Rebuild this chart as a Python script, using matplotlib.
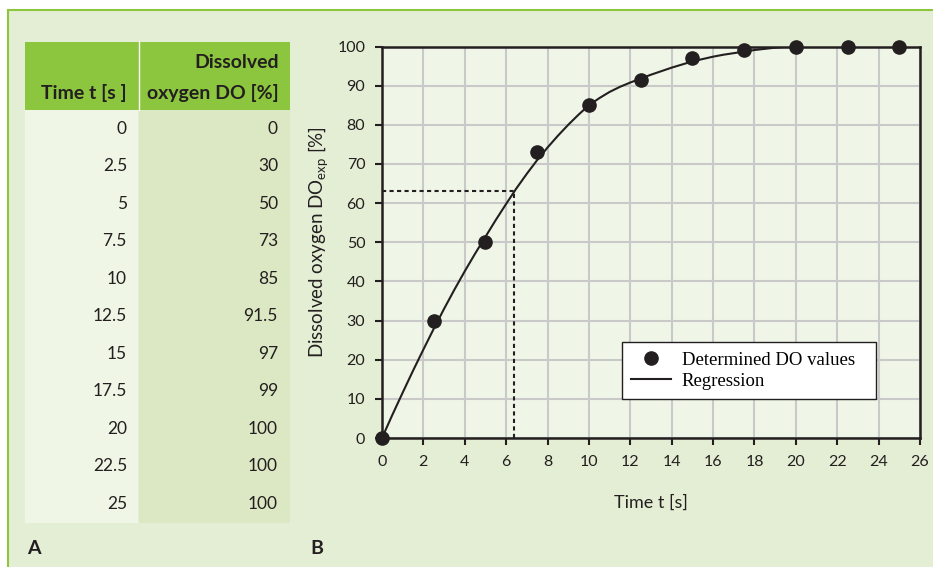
"""
plot.py - dissolved oxygen step response: table (A) and regression plot (B).
"""
import numpy as np
import matplotlib
matplotlib.use("Agg")
import matplotlib.pyplot as plt
from matplotlib.patches import Rectangle

# ── data ────────────────────────────────────────────────────────────────────
time_s = [0, 2.5, 5, 7.5, 10, 12.5, 15, 17.5, 20, 22.5, 25]
do_pct = [0, 30, 50, 73, 85, 91.5, 97, 99, 100, 100, 100]
time_labels = ["0", "2.5", "5", "7.5", "10", "12.5", "15", "17.5", "20", "22.5", "25"]
do_labels = ["0", "30", "50", "73", "85", "91.5", "97", "99", "100", "100", "100"]

# regression curve (every 0.5 s up to 20 s)
reg_t = [0, 0.5, 1, 1.5, 2, 2.5, 3, 3.5, 4, 4.5, 5, 5.5, 6, 6.5, 7, 7.5, 8, 8.5, 9, 9.5,
         10, 10.5, 11, 11.5, 12, 12.5, 13, 13.5, 14, 14.5, 15, 15.5, 16, 16.5, 17, 17.5,
         18, 18.5, 19, 19.5, 20, 22.5, 25]
reg_do = [0, 5.9, 11.6, 17.2, 22.6, 27.9, 33.0, 37.9, 42.6, 47.1, 51.4, 55.7, 59.8, 63.8,
          67.5, 71.0, 74.2, 77.2, 80.0, 82.6, 85.0, 86.8, 88.4, 89.7, 90.8, 91.8, 92.8,
          93.7, 94.6, 95.4, 96.2, 96.8, 97.4, 97.9, 98.3, 98.7, 99.1, 99.4, 99.7, 99.9,
          100, 100, 100]

T63 = 6.38    # time to 63.2 %
DO63 = 63.2

# ── style ───────────────────────────────────────────────────────────────────
SANS = "Lato"
INK = "#231f20"
GREEN = "#8cc63e"
PANEL = "#e4eed4"
COL1 = "#eff6e6"
COL2 = "#dbe8c3"
PLOT_BG = "#f0f6e7"
GRID = "#c9c9c9"

plt.rcParams["font.family"] = [SANS, "DejaVu Sans"]
plt.rcParams["mathtext.fontset"] = "custom"
plt.rcParams["mathtext.rm"] = SANS
plt.rcParams["mathtext.it"] = SANS

W, H = 933, 567
fig = plt.figure(figsize=(W / 100, H / 100), dpi=100)
fig.patch.set_facecolor("white")


def fx(px):
    return px / W


def fy(py):
    return 1 - py / H


def box(x, y, w, h, color):
    fig.patches.append(Rectangle((fx(x), fy(y + h)), w / W, h / H, transform=fig.transFigure,
                                 facecolor=color, edgecolor="none", zorder=-2))


# outer panel with green top/left border
box(8, 10, W - 8, H - 10, PANEL)
fig.add_artist(plt.Line2D([fx(8), 1], [fy(10), fy(10)], color=GREEN, lw=1.5,
                          transform=fig.transFigure, zorder=-1))
fig.add_artist(plt.Line2D([fx(8), fx(8)], [0, fy(10)], color=GREEN, lw=1.5,
                          transform=fig.transFigure, zorder=-1))

# ── table (A) ───────────────────────────────────────────────────────────────
x0, xm, x1 = 25, 138, 290
head_top, head_bot = 42, 110
row_h = 37.5
body_bot = head_bot + row_h * len(time_s)

box(x0, head_top, x1 - x0, head_bot - head_top, GREEN)
box(x0, head_bot, xm - x0, body_bot - head_bot, COL1)
box(xm + 1, head_bot, x1 - xm - 1, body_bot - head_bot, COL2)
fig.add_artist(plt.Line2D([fx(xm + 0.5)] * 2, [fy(head_bot), fy(head_top)], color="white",
                          lw=1, transform=fig.transFigure, zorder=-1))

fig.text(fx(127), fy(93), "Time t [s ]", ha="right", va="center", fontsize=14,
         fontweight="bold", color=INK)
fig.text(fx(279), fy(62), "Dissolved", ha="right", va="center", fontsize=14,
         fontweight="bold", color=INK)
fig.text(fx(279), fy(93), "oxygen DO [%]", ha="right", va="center", fontsize=14,
         fontweight="bold", color=INK)

for i, (tl, dl) in enumerate(zip(time_labels, do_labels)):
    yc = head_bot + row_h * (i + 0.5)
    fig.text(fx(127), fy(yc), tl, ha="right", va="center", fontsize=12.5, color=INK)
    fig.text(fx(278), fy(yc), dl, ha="right", va="center", fontsize=12.5, color=INK)

fig.text(fx(27), fy(548), "A", ha="left", va="center", fontsize=14, fontweight="bold", color=INK)
fig.text(fx(310), fy(548), "B", ha="left", va="center", fontsize=14, fontweight="bold", color=INK)

# ── plot (B) ────────────────────────────────────────────────────────────────
ax = fig.add_axes([fx(382), fy(438), fx(920 - 382), fy(46.5) - fy(438)])
ax.set_zorder(5)
ax.set_facecolor(PLOT_BG)
ax.set_xlim(0, 26)
ax.set_ylim(0, 100)
ax.set_xticks(np.arange(0, 27, 2))
ax.set_yticks(np.arange(0, 101, 10))
ax.grid(True, color=GRID, lw=1.5)
ax.set_axisbelow(True)
for s in ax.spines.values():
    s.set_linewidth(1.8)
    s.set_color(INK)
ax.tick_params(direction="out", length=5, width=1.5, color=INK, labelsize=11.5,
               labelcolor=INK, pad=7)

ax.plot([0, T63], [DO63, DO63], color=INK, lw=1.5, ls=(0, (2, 1.6)), zorder=2)
ax.plot([T63, T63], [0, DO63], color=INK, lw=1.5, ls=(0, (2, 1.6)), zorder=2)

ax.plot(reg_t, reg_do, color=INK, lw=1.5, label="Regression", zorder=3)
ax.plot(time_s, do_pct, "o", color=INK, ms=9.5, label="Determined DO values",
        clip_on=False, zorder=4)

handles, labels = ax.get_legend_handles_labels()
leg = ax.legend(handles[::-1], labels[::-1], loc="lower left",
                bbox_to_anchor=(0.446, 0.0996, 0.472, 0.184), mode="expand",
                borderaxespad=0, frameon=True, fancybox=False, handlelength=2.1,
                handletextpad=0.6, prop={"family": "Liberation Serif", "size": 13.5},
                labelspacing=0.2, borderpad=0.5)
leg.get_frame().set_edgecolor(INK)
leg.get_frame().set_linewidth(1)
leg.get_frame().set_facecolor("white")
leg.get_frame().set_alpha(1)

ax.set_xlabel("Time t [s]", fontsize=13, color=INK, labelpad=19)
ax.set_ylabel(r"Dissolved oxygen DO$_{\mathrm{exp}}$ [%]", fontsize=13.5, color=INK,
              labelpad=5)

fig.savefig("out.png", dpi=100, facecolor=fig.get_facecolor())
